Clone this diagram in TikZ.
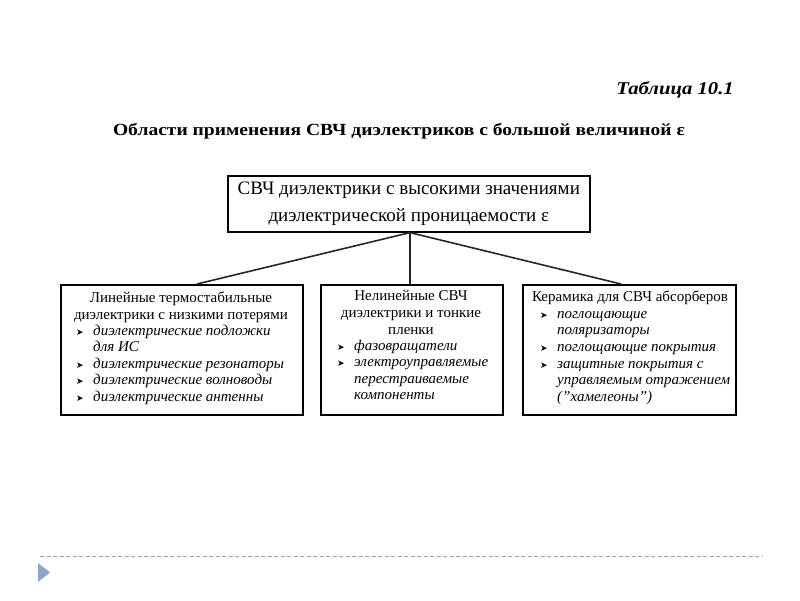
\documentclass[tikz,border=0pt]{standalone}
\usepackage{fontspec}
\setmainfont{Liberation Serif}
\newfontfamily\symfont{DejaVu Sans}
\newfontfamily\widefont[FakeStretch=1.15]{Liberation Serif}
\usetikzlibrary{positioning}
\definecolor{sepline}{RGB}{150,165,185}
\definecolor{trifill}{RGB}{140,165,200}
\tikzset{
  box/.style={draw=black, line width=1.6pt, inner sep=0pt},
  conn/.style={draw=black!85, line width=1.6pt},
  txt/.style={inner sep=0pt, align=left, font=\fontsize{15}{16.6}\selectfont},
  ctxt/.style={inner sep=0pt, align=center, font=\fontsize{15}{16.6}\selectfont},
}
\newcommand{\bul}{\makebox[17pt][l]{\symfont\fontsize{9}{9}\selectfont ➤}}
\newcommand{\cnt}{\hspace*{17pt}}
\begin{document}
\begin{tikzpicture}[x=1pt,y=-1pt]
\useasboundingbox (0,0) rectangle (800,600);
% header texts
\node[inner sep=0pt, anchor=east, font=\widefont\fontsize{18}{20}\selectfont\bfseries\itshape] (tab) at (734,90) {Таблица 10.1};
\node[inner sep=0pt, font=\widefont\fontsize{17}{20}\selectfont\bfseries] (title) at (399,131) {Области применения СВЧ диэлектриков с большой величиной ε};
% top box
\node[box, minimum width=362, minimum height=56, anchor=north west] (top) at (227,175) {};
\node[inner sep=0pt, align=center, font=\fontsize{19}{27}\selectfont] (toptext) at (top.center) {СВЧ диэлектрики с высокими значениями\\диэлектрической проницаемости ε};
% lower boxes
\node[box, minimum width=242, minimum height=130, anchor=north west] (L) at (60,284) {};
\node[box, minimum width=182, minimum height=130, anchor=north west] (M) at (320,284) {};
\node[box, minimum width=213, minimum height=130, anchor=north west] (R) at (522,284) {};
% connectors
\coordinate (hub) at (410,231);
\draw[conn] (top.south -| hub) -- (197,284);
\draw[conn] (top.south -| hub) -- (M.north -| hub);
\draw[conn] (top.south -| hub) -- (621,284);
% left box text
\node[ctxt, anchor=north] (Lh) at (181,291.5) {Линейные термостабильные\\диэлектрики с низкими потерями};
\node[txt, anchor=north west] (Ll) at (76,324.5) {%
\bul\textit{диэлектрические подложки}\\
\cnt\textit{для ИС}\\
\bul\textit{диэлектрические резонаторы}\\
\bul\textit{диэлектрические волноводы}\\
\bul\textit{диэлектрические антенны}};
% middle box text
\node[ctxt, anchor=north] (Mh) at (411,290.5) {Нелинейные СВЧ\\диэлектрики и тонкие\\пленки};
\node[txt, anchor=north west] (Ml) at (337,339.5) {%
\bul\textit{фазовращатели}\\
\bul\textit{электроуправляемые}\\
\cnt\textit{перестраиваемые}\\
\cnt\textit{компоненты}};
% right box text
\node[ctxt, anchor=north] (Rh) at (630,291) {Керамика для СВЧ абсорберов};
\node[txt, anchor=north west] (Rl) at (540,311) {%
\bul\textit{поглощающие}\\
\cnt\textit{поляризаторы}\\
\bul\textit{поглощающие покрытия}\\
\bul\textit{защитные покрытия с}\\
\cnt\textit{управляемым отражением}\\
\cnt\textit{(”хамелеоны”)}};
% slide decoration
\coordinate (d1) at (40,556);
\coordinate (d2) at (762,556);
\draw[sepline, line width=0.8pt, dash pattern=on 4pt off 2.5pt] (d1) -- (d2);
\fill[trifill] (38,563) -- (50,572.5) -- (38,582) -- cycle;
\end{tikzpicture}
\end{document}
